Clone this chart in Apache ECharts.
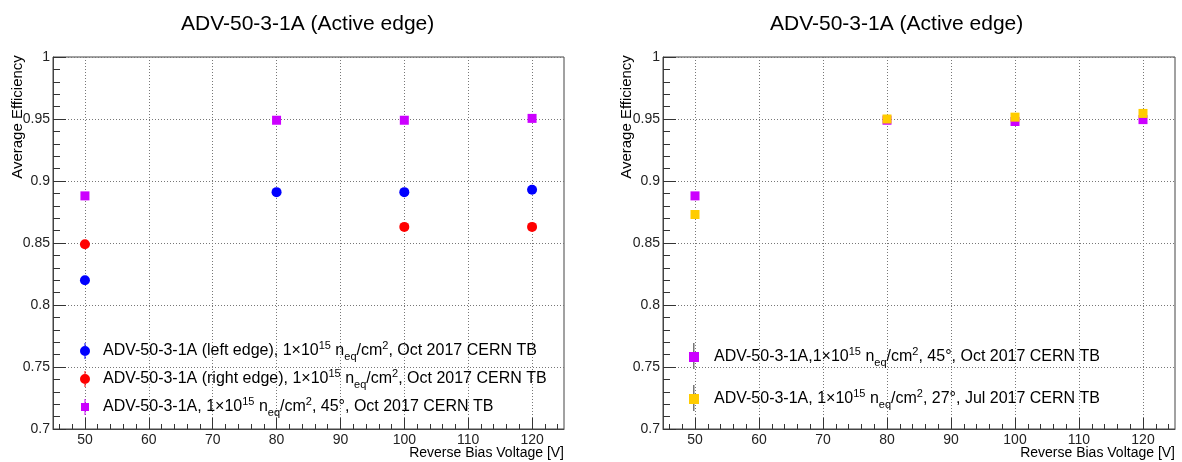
<!DOCTYPE html>
<html>
<head>
<meta charset="utf-8">
<script src="https://cdn.jsdelivr.net/npm/echarts@6/dist/echarts.min.js"></script>
<style>
html, body { margin: 0; padding: 0; background: #fff; }
#chart { width: 1182px; height: 462px; }
</style>
</head>
<body>
<div id="chart"></div>
<script>
// tick values
var xMajor = [50, 60, 70, 80, 90, 100, 110, 120];
var xMinor = [];
for (var t = 46; t <= 124; t += 2) { if (t % 10) xMinor.push(t); }

// left panel
var voltLeftEdge = [50, 80, 100, 120];
var effLeftEdge = [0.820, 0.891, 0.891, 0.893];
var voltRightEdge = [50, 100, 120];
var effRightEdge = [0.849, 0.863, 0.863];
var volt45 = [50, 80, 100, 120];
var eff45 = [0.888, 0.949, 0.949, 0.9505];

// right panel
var volt45b = [50, 80, 100, 120];
var eff45b = [0.888, 0.949, 0.948, 0.9495];
var volt27 = [50, 80, 100, 120];
var eff27 = [0.873, 0.950, 0.9515, 0.9545];

var nameL1 = 'ADV-50-3-1A (left edge), 1\u00d710^15 n_eq/cm^2, Oct 2017 CERN TB';
var nameL2 = 'ADV-50-3-1A (right edge), 1\u00d710^15 n_eq/cm^2, Oct 2017 CERN TB';
var nameL3 = 'ADV-50-3-1A, 1\u00d710^15 n_eq/cm^2, 45\u00b0, Oct 2017 CERN TB';
var nameR1 = 'ADV-50-3-1A,1\u00d710^15 n_eq/cm^2, 45\u00b0, Oct 2017 CERN TB';
var nameR2 = 'ADV-50-3-1A, 1\u00d710^15 n_eq/cm^2, 27\u00b0, Jul 2017 CERN TB';

var FONT = '"Liberation Sans", Arial, sans-serif';
var circleIcon = 'path://M4.5,0 h1 v3 h-1 Z M4.5,13 h1 v3 h-1 Z M0,8 a5,5 0 1,0 10,0 a5,5 0 1,0 -10,0 Z';
var squareIcon = 'path://M4.5,0 h1 v4 h-1 Z M4.5,12 h1 v4 h-1 Z M1,4 h8 v8 h-8 Z';
var plainSquare = 'path://M0,0 h9 v9 h-9 Z';

function pairs(xs, ys) {
    return xs.map(function (x, i) { return [x, ys[i]]; });
}

function fmt(n) {
    return n.replace(/\^(\w+)/g, '{sup|$1}').replace(/_(\w+)/g, '{sub|$1}');
}

var legendText = {
    fontFamily: FONT,
    fontSize: 16,
    color: '#000',
    lineHeight: 22,
    rich: {
        sup: { fontSize: 11, fontFamily: FONT, verticalAlign: 'top', lineHeight: 13 },
        sub: { fontSize: 11, fontFamily: FONT, verticalAlign: 'bottom', lineHeight: 13 }
    }
};

function majorX(grid) {
    return {
        type: 'value', gridIndex: grid, min: 45, max: 125, interval: 5, position: 'bottom',
        axisLine: { show: true, onZero: false, lineStyle: { color: '#444', width: 1 } },
        axisTick: { show: true, inside: true, length: 11, customValues: xMajor, lineStyle: { color: '#333' } },
        axisLabel: { customValues: xMajor, color: '#222', fontFamily: FONT, fontSize: 14, margin: 4 },
        splitLine: { show: true, lineStyle: { color: '#777', type: [1, 2], width: 1 } }
    };
}
function minorX(grid) {
    return {
        type: 'value', gridIndex: grid, min: 45, max: 125, interval: 5, position: 'bottom',
        axisLine: { show: false },
        axisTick: { show: true, inside: true, length: 5, customValues: xMinor, lineStyle: { color: '#333' } },
        axisLabel: { show: false },
        splitLine: { show: false }
    };
}
function yAx(grid) {
    return {
        type: 'value', gridIndex: grid, min: 0.7, max: 1, interval: 0.05,
        axisLine: { show: true, lineStyle: { color: '#444', width: 1 } },
        axisTick: { show: true, inside: true, length: 13, lineStyle: { color: '#333' } },
        minorTick: { show: true, splitNumber: 5, length: 7, lineStyle: { color: '#333' } },
        axisLabel: { color: '#222', fontFamily: FONT, fontSize: 14, margin: 3 },
        splitLine: { show: true, lineStyle: { color: '#777', type: [1, 2], width: 1 } }
    };
}

function pts(name, xs, ys, shape, size, color, xi, yi) {
    return {
        type: 'scatter', name: name, xAxisIndex: xi, yAxisIndex: yi,
        symbol: shape, symbolSize: size, symbolKeepAspect: true,
        itemStyle: { color: color, opacity: 1 },
        data: pairs(xs, ys)
    };
}

var chart = echarts.init(document.getElementById('chart'));
chart.setOption({
    animation: false,
    backgroundColor: '#fff',
    title: [
        { text: 'ADV-50-3-1A (Active edge)', left: 181, top: 14, padding: 0,
          textStyle: { fontFamily: FONT, fontSize: 21, fontWeight: 'normal', color: '#000' } },
        { text: 'ADV-50-3-1A (Active edge)', left: 770, top: 14, padding: 0,
          textStyle: { fontFamily: FONT, fontSize: 21, fontWeight: 'normal', color: '#000' } }
    ],
    grid: [
        { left: 53, top: 57, width: 511, height: 372, show: true, borderColor: '#444', borderWidth: 1 },
        { left: 663, top: 57, width: 512, height: 372, show: true, borderColor: '#444', borderWidth: 1 }
    ],
    xAxis: [majorX(0), minorX(0), majorX(1), minorX(1)],
    yAxis: [yAx(0), yAx(1)],
    legend: [
        {
            left: 75, top: 335, orient: 'vertical', selectedMode: false,
            itemWidth: 26, itemHeight: 16, itemGap: 6,
            data: [
                { name: nameL1, icon: circleIcon },
                { name: nameL2, icon: circleIcon },
                { name: nameL3, icon: squareIcon }
            ],
            formatter: fmt, textStyle: legendText
        },
        {
            left: 684, top: 341, orient: 'vertical', selectedMode: false,
            itemWidth: 30, itemHeight: 10, itemGap: 20,
            data: [
                { name: nameR1, icon: plainSquare },
                { name: nameR2, icon: plainSquare }
            ],
            formatter: fmt, textStyle: legendText
        }
    ],
    graphic: [
        { type: 'text', x: 18, y: 117, rotation: Math.PI / 2,
          style: { text: 'Average Efficiency', font: '15px ' + FONT, fill: '#000', align: 'center', verticalAlign: 'middle' } },
        { type: 'text', x: 627, y: 117, rotation: Math.PI / 2,
          style: { text: 'Average Efficiency', font: '15px ' + FONT, fill: '#000', align: 'center', verticalAlign: 'middle' } },
        { type: 'text', x: 564, y: 453,
          style: { text: 'Reverse Bias Voltage [V]', font: '14px ' + FONT, fill: '#000', align: 'right', verticalAlign: 'middle' } },
        { type: 'text', x: 1175, y: 453,
          style: { text: 'Reverse Bias Voltage [V]', font: '14px ' + FONT, fill: '#000', align: 'right', verticalAlign: 'middle' } },
        // grey error-bar strokes behind the right legend markers
        { type: 'rect', z: 0, shape: { x: 693, y: 343, width: 1.5, height: 26 }, style: { fill: '#777' } },
        { type: 'rect', z: 0, shape: { x: 693, y: 385, width: 1.5, height: 26 }, style: { fill: '#777' } }
    ],
    series: [
        pts(nameL1, voltLeftEdge, effLeftEdge, 'circle', 10, '#0000ff', 0, 0),
        pts(nameL2, voltRightEdge, effRightEdge, 'circle', 10, '#ff0000', 0, 0),
        pts(nameL3, volt45, eff45, 'rect', 9, '#cc00ff', 0, 0),
        pts(nameR1, volt45b, eff45b, 'rect', 9, '#cc00ff', 2, 1),
        pts(nameR2, volt27, eff27, 'rect', 9, '#ffcc00', 2, 1)
    ]
});
</script>
</body>
</html>
